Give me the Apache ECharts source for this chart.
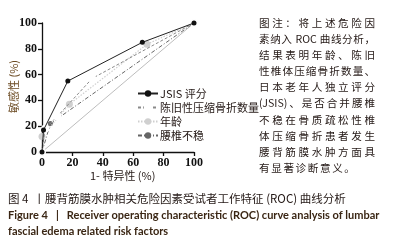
<!DOCTYPE html>
<html>
<head>
<meta charset="utf-8">
<script src="https://cdn.jsdelivr.net/npm/echarts@6/dist/echarts.min.js"></script>
<style>
  html, body { margin: 0; padding: 0; background: #fff; }
  #wrap { position: relative; width: 413px; height: 248px; overflow: hidden; }
  #chart { position: absolute; left: 0; top: 0; width: 413px; height: 248px; }
  #note {
    position: absolute; left: 259px; top: 15px; width: 116px;
    font-family: "Noto Sans CJK SC", sans-serif; font-size: 10.6px;
    line-height: 16.1px; color: #231815;
  }
  #note div { text-align: justify; text-align-last: justify; white-space: nowrap; }
  #note div.last { text-align-last: left; letter-spacing: 1.6px; }
</style>
</head>
<body>
<div id="wrap">
  <div id="chart"></div>
  <div id="note"></div>
</div>
<script>
// ROC points, in percent
const jsisX = [0, 1, 17, 66, 100];
const jsisY = [0, 17, 55, 85, 100];
const oldFxX = [0, 2, 10, 33, 100];
const oldFxY = [0, 18, 27.5, 57, 100];
const ageX = [0, 0, 18, 69, 100];
const ageY = [0, 12, 37, 83.5, 100];
const instabX = [0, 5.5, 100];
const instabY = [0, 22, 100];
const refX = [0, 100];
const refY = [0, 100];

const seriesNames = ["JSIS 评分", "陈旧性压缩骨折数量", "年龄", "腰椎不稳"];
const yTitle = "敏感性 (%)";
const xTitle = "1- 特异性 (%)";

const noteLines = [
  "图注：将上述危险因",
  "素纳入 ROC 曲线分析，",
  "结果表明年龄、陈旧",
  "性椎体压缩骨折数量、",
  "日本老年人独立评分",
  "(JSIS)、是否合并腰椎",
  "不稳在骨质疏松性椎",
  "体压缩骨折患者发生",
  "腰背筋膜水肿方面具",
  "有显著诊断意义。"
];
const captionCn = "图 4  丨腰背筋膜水肿相关危险因素受试者工作特征 (ROC) 曲线分析";
const captionEn1 = "Figure 4   |   Receiver operating characteristic (ROC) curve analysis of lumbar";
const captionEn2 = "fascial edema related risk factors";

const pairs = (xs, ys) => xs.map((x, i) => [x, ys[i]]);

document.getElementById("note").innerHTML = noteLines
  .map((t, i) => `<div class="${i === noteLines.length - 1 ? "last" : ""}">${t}</div>`)
  .join("");

const chart = echarts.init(document.getElementById("chart"), null, { renderer: "canvas" });

const tickFont = { fontFamily: "'Liberation Serif', serif", fontWeight: "bold", fontSize: 12, color: "#111" };

chart.setOption({
  animation: false,
  grid: { left: 42, right: 219, top: 23, bottom: 96 },
  xAxis: {
    type: "value", min: 0, max: 100, interval: 20,
    axisLine: { lineStyle: { color: "#111", width: 1.3 } },
    axisTick: { length: 4, lineStyle: { color: "#111", width: 1.3 } },
    axisLabel: Object.assign({ margin: 5 }, tickFont),
    splitLine: { show: false }
  },
  yAxis: {
    type: "value", min: 0, max: 100, interval: 20,
    axisLine: { show: true, lineStyle: { color: "#111", width: 1.3 } },
    axisTick: { show: true, length: 4, lineStyle: { color: "#111", width: 1.3 } },
    axisLabel: Object.assign({ margin: 5 }, tickFont),
    splitLine: { show: false }
  },
  legend: {
    orient: "vertical", left: 132, top: 83, itemGap: 3,
    itemWidth: 20, itemHeight: 8,
    data: seriesNames,
    textStyle: { fontFamily: "Noto Sans CJK SC", fontSize: 11, color: "#231815", padding: [0, 0, 0, -3] }
  },
  graphic: [
    {
      type: "text", left: 8, top: 60, rotation: Math.PI / 2, originX: 0, originY: 0,
      style: { text: yTitle, font: "11px 'Noto Sans CJK SC'", fill: "#6b4a22" }
    },
    {
      type: "text", left: 90, top: 170,
      style: { text: xTitle, font: "11px 'Noto Sans CJK SC'", fill: "#231815" }
    },
    {
      type: "text", left: 8, top: 193,
      style: { text: captionCn, font: "11.5px 'Noto Sans CJK SC'", fill: "#231815" }
    },
    {
      type: "text", left: 8, top: 210,
      style: { text: captionEn1, font: "bold 11px Lato", fill: "#3a2614" }
    },
    {
      type: "text", left: 8, top: 226,
      style: { text: captionEn2, font: "bold 11px Lato", fill: "#3a2614" }
    }
  ],
  series: [
    {
      name: "ref", type: "line", data: pairs(refX, refY), symbol: "none", silent: true,
      lineStyle: { color: "#bdbdbd", width: 1 }, z: 1
    },
    {
      name: seriesNames[3], type: "line", data: pairs(instabX, instabY),
      symbol: "circle", symbolSize: 5,
      itemStyle: { color: "#666" },
      lineStyle: { color: "#666", width: 1, type: [4, 2, 1, 2] }, z: 2
    },
    {
      name: seriesNames[2], type: "line", data: pairs(ageX, ageY),
      symbol: "circle", symbolSize: 7,
      itemStyle: { color: "#d0d0d0" },
      lineStyle: { color: "#cfcfcf", width: 1.2, type: [1.5, 1.5] }, z: 3
    },
    {
      name: seriesNames[1], type: "line", data: pairs(oldFxX, oldFxY),
      symbol: "emptyCircle", symbolSize: 6,
      itemStyle: { color: "#fff", borderColor: "#8a8a8a", borderWidth: 1.5 },
      lineStyle: { color: "#8a8a8a", width: 1, type: [3, 2] }, z: 4
    },
    {
      name: seriesNames[0], type: "line", data: pairs(jsisX, jsisY),
      symbol: "circle", symbolSize: 5,
      itemStyle: { color: "#111" },
      lineStyle: { color: "#222", width: 1 }, z: 5
    }
  ]
});
</script>
</body>
</html>
